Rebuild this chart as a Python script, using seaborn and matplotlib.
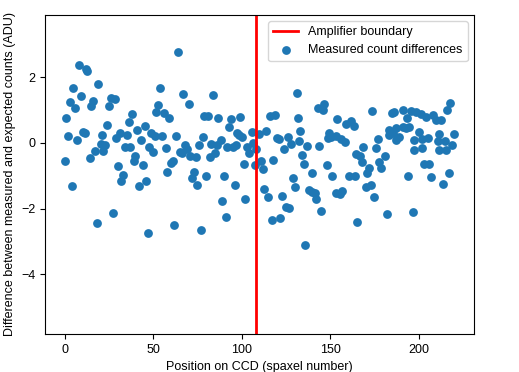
import matplotlib
matplotlib.use("Agg")
import matplotlib.pyplot as plt
import seaborn as sns
import pandas as pd

plt.rcParams['font.family'] = ['Liberation Sans', 'DejaVu Sans']

# spaxel positions and measured - expected counts (ADU)
spaxel = [0.0, 0.9, 1.9, 2.8, 4.0, 4.9, 6.0, 7.0, 8.0, 9.0, 10.3, 11.3, 12.2, 12.8, 14.1, 15.0, 15.8,
          16.9, 18.0, 18.9, 20.3, 21.0, 21.8, 23.0, 23.9, 25.0, 25.9, 27.5, 28.3, 29.0, 30.0, 31.0,
          31.9, 32.9, 34.0, 35.0, 36.1, 36.8, 38.0, 39.1, 39.9, 41.0, 41.7, 42.9, 44.2, 45.1, 46.0,
          46.9, 47.9, 48.9, 49.8, 50.8, 51.7, 52.8, 53.8, 55.0, 56.0, 57.0, 57.9, 58.8, 60.2, 61.1,
          61.8, 62.7, 63.8, 64.9, 66.2, 67.0, 68.0, 68.8, 70.0, 70.9, 71.8, 72.8, 73.9, 74.9, 75.9,
          77.0, 78.0, 78.8, 80.0, 80.8, 81.8, 82.9, 83.8, 84.6, 85.8, 86.8, 88.0, 88.9, 89.8, 91.0,
          91.8, 92.8, 94.0, 95.0, 96.0, 96.8, 97.3, 98.4, 99.2, 100.2, 101.0, 101.9, 102.8, 104.1,
          105.7, 106.5, 107.4, 108.1, 109.8, 110.9, 111.7, 112.8, 113.7, 115.0, 116.0, 116.9, 117.9,
          118.8, 120.0, 120.9, 121.8, 122.8, 123.7, 125.0, 126.0, 126.9, 127.8, 128.8, 130.1, 130.9,
          132.0, 132.5, 133.1, 133.8, 135.0, 135.9, 136.9, 137.9, 139.7, 139.9, 141.4, 141.9, 142.9,
          143.8, 144.8, 145.7, 146.6, 147.9, 148.5, 149.2, 150.4, 150.9, 153.2, 153.2, 153.8, 155.3,
          156.0, 156.8, 158.5, 158.9, 160.7, 161.5, 163.1, 163.9, 164.5, 165.2, 167.0, 167.9, 168.7,
          170.1, 170.9, 171.8, 172.8, 173.7, 174.8, 175.8, 176.7, 177.7, 178.6, 180.7, 181.8, 183.1,
          182.9, 184.9, 185.7, 185.2, 187.3, 187.3, 188.5, 190.8, 190.8, 192.7, 193.0, 193.6, 194.6,
          195.5, 196.4, 197.4, 197.4, 198.3, 199.8, 201.2, 201.5, 201.7, 202.8, 203.8, 204.9, 205.9,
          206.7, 207.7, 209.6, 210.6, 211.1, 211.5, 212.5, 213.8, 214.7, 215.3, 215.6, 216.8, 217.7,
          218.7, 219.8]
diff = [-0.55, 0.77, 0.22, 1.24, -1.3, 1.68, 1.06, 0.1, 2.38, 1.43, 0.34, 0.30, 2.25, 2.19, -0.45, 1.14, 1.28,
        -0.25, -2.45, 1.78, -0.03, 0.23, -0.26, -0.06, 0.55, 1.12, 1.36, -2.12, 1.33, 0.15, -0.7, 0.31,
        -1.15, -0.97, -0.13, 0.24, 0.65, -0.13, 0.88, -0.55, -0.4, 0.4, -1.31, 0.09, -0.66, 0.51, -1.16,
        -2.73, -0.11, 0.3, -0.27, 0.22, 0.95, 1.15, 1.67, 0.22, 0.91, -0.15, -0.9, 0.75, -0.61, -0.55,
        -2.5, 0.22, 2.78, -0.27, -0.3, 1.48, -0.05, -0.17, 1.2, -0.4, -1.08, -0.9, -0.42, -1.29, -0.06,
        -2.65, 0.19, 0.83, -1.0, 0.83, -0.42, -0.03, 1.46, -0.31, -0.07, 0.75, 0.1, -1.77, -1.0, -2.25,
        -0.13, 0.48, 0.73, -0.13, -1.28, -0.05, 0.3, 0.24, 0.78, 0.18, -0.63, -1.71, -0.11, -0.32,
        0.34, 0.0, -0.66, -0.19, 0.28, -0.55, -0.78, -1.41, 0.36, -1.65, 0.82, -2.36, -0.51,
        0.86, 0.14, 0.11, -2.29, -1.61, -0.19, -1.95, 0.19, -1.99, -0.03, -1.08, -1.33, 1.51,
        0.77, 0.06, 0.37, -0.37, -0.64, -3.11, -0.09, -1.42, -1.5, -0.93, -1.53, -1.72, 1.06,
        -0.09, -2.08, 0.99, 1.18, -0.68, 0.15, 0.3, 0.18, -1.0, -1.51, 0.2, 0.73, -1.55,
        0.11, -1.47, 0.02, 0.59, -1.0, 0.68, 0.53, -1.0, -0.33, -2.41, -0.4, -0.57, -0.12,
        -1.35, -0.93, -0.76, -1.28, 0.98, -1.64, -0.16, 0.12, -0.57, -0.75, -0.4, -2.16, 0.4,
        0.24, 0.9, 0.93, 0.3, 0.45, 0.09, 0.18, 1.0, 0.5, 0.45, 0.75, -1.0, 0.5,
        0.98, -2.09, -0.2, 0.09, 0.95, 0.32, 0.88, 0.12, -0.16, -0.65, 0.8, 0.14, -0.65,
        -1.05, 0.85, 0.7, 0.06, -0.23, 0.27, 0.7, -1.26, 0.06, -0.23, 1.0, -0.92, 1.23,
        -0.06, 0.27]
boundary = 108

df = pd.DataFrame({'spaxel': spaxel, 'diff': diff})

fig = plt.figure(figsize=(5.19, 3.72), dpi=100)
ax = fig.add_axes([0.087, 0.102, 0.826, 0.858])

ax.axvline(boundary, color='red', lw=2, label='Amplifier boundary')
sns.scatterplot(data=df, x='spaxel', y='diff', ax=ax, s=40, color='#1f77b4',
                linewidth=0, label='Measured count differences')

ax.set_xlim(-11, 231)
ax.set_ylim(-5.82, 3.9)
ax.set_yticks([-4, -2, 0, 2])
ax.set_xlabel('Position on CCD (spaxel number)', fontsize=9)
ax.set_ylabel('Difference between measured and expected counts (ADU)', fontsize=9)
ax.tick_params(labelsize=9)
ax.legend(loc='upper right', fontsize=9)

fig.savefig('out.png', dpi=100)
